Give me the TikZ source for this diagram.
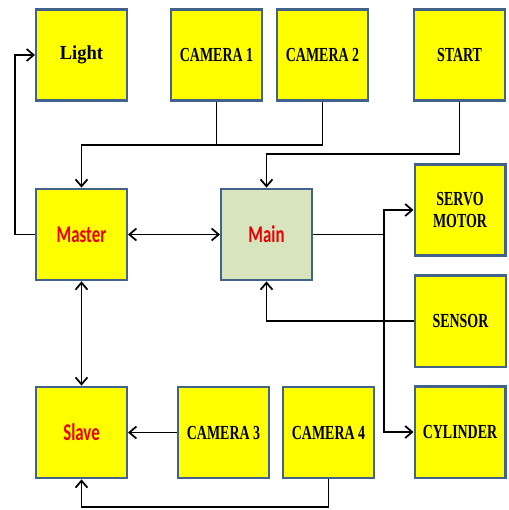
\documentclass[tikz,border=0pt]{standalone}
\usepackage{fontspec}
\usetikzlibrary{arrows.meta,positioning}
\newfontfamily\labelfont[FakeStretch=0.70]{Liberation Serif}
\newfontfamily\lightfont[FakeStretch=0.93]{Liberation Serif}
\newfontfamily\ctrlfont[FakeStretch=0.70]{Carlito}
\definecolor{boxline}{RGB}{66,98,140}
\definecolor{boxfill}{RGB}{255,255,0}
\definecolor{mainfill}{RGB}{216,228,190}
\definecolor{ctrlred}{RGB}{235,0,0}

\begin{document}
\begin{tikzpicture}[x=0.03cm, y=-0.03cm,
        box/.style={draw=boxline, line width=2pt, fill=boxfill, rectangle,
                    minimum width=2.72cm, minimum height=2.74cm, inner sep=1pt,
                    align=center, font=\labelfont\bfseries\fontsize{17}{19.5}\selectfont},
        ctrl/.style={box, font=\ctrlfont\bfseries\fontsize{20.5}{22}\selectfont, text=ctrlred},
        conn/.style={line width=1.6pt},
        arr/.tip={Straight Barb[length=2.1mm, width=3.6mm, line width=1.5pt]}
    ]
        \useasboundingbox (0,0) rectangle (508,510);

        \node[box] (light) at (81.5,55) {\lightfont\bfseries Light};
        \node[box] (cam1) at (216.5,55) {CAMERA 1};
        \node[box] (cam2) at (322.5,55) {CAMERA 2};
        \node[box] (start) at (459.5,55) {START};
        \node[ctrl] (master) at (81.5,234.5) {Master};
        \node[ctrl, fill=mainfill] (main) at (266.5,234.5) {Main};
        \node[box] (servo) at (460,210) {SERVO\\MOTOR};
        \node[box] (sensor) at (460.5,321) {SENSOR};
        \node[box] (cyl) at (460,432) {CYLINDER};
        \node[ctrl] (slave) at (81.5,432.5) {Slave};
        \node[box] (cam3) at (223.5,432.5) {CAMERA 3};
        \node[box] (cam4) at (328.5,432.5) {CAMERA 4};

        \draw[conn, -arr] (master.west) -- ++(-20,0) |- (light.west);
        \draw[conn] (cam1.south) -- ++(0,43);
        \draw[conn, -arr] (cam2.south) -- ++(0,43) -| (master.north);
        \draw[conn, -arr] (start.south) -- ++(0,52) -| (main.north);
        \draw[conn, arr-arr] (master) -- (main);
        \draw[conn] (main.east) -- ++(71,0) coordinate (split);
        \draw[conn, -arr] (split) |- (servo.west);
        \draw[conn, -arr] (split) |- (cyl.west);
        \draw[conn, -arr] (sensor.west) -| (main.south);
        \draw[conn, arr-arr] (master) -- (slave);
        \draw[conn, -arr] (cam3) -- (slave);
        \draw[conn, -arr] (cam4.south) -- ++(0,28) -| (slave.south);
    \end{tikzpicture}
\end{document}
